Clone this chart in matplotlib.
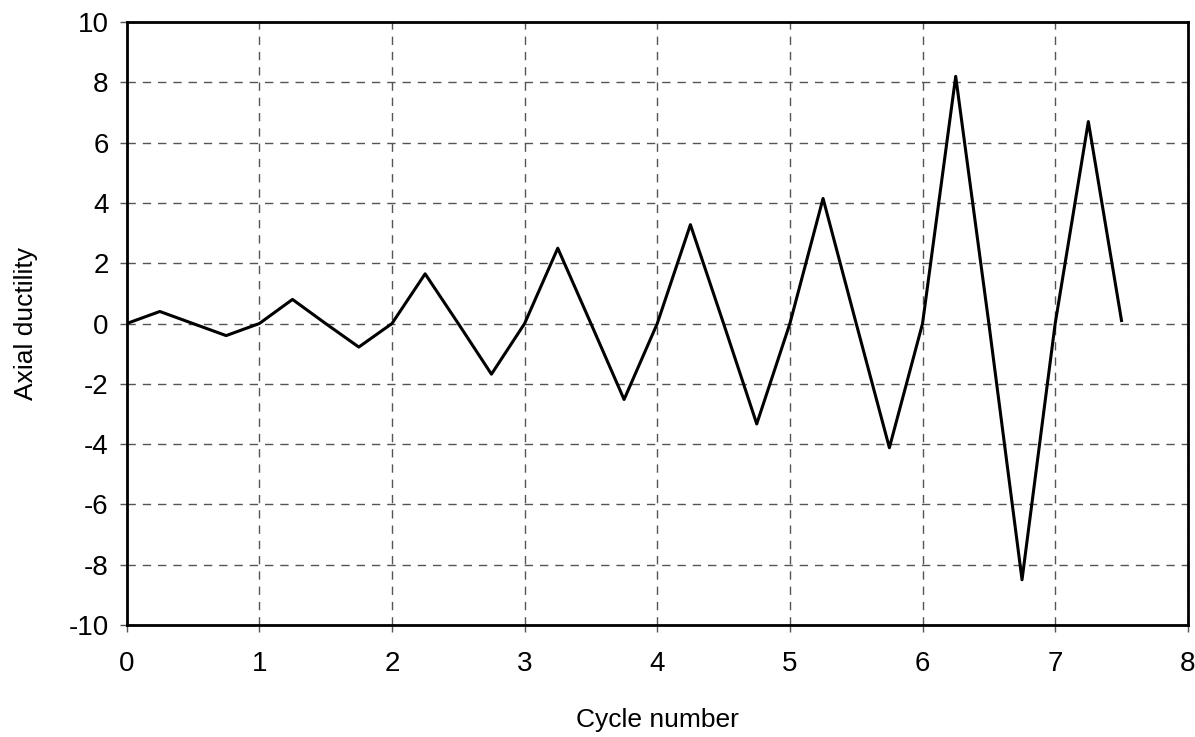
import matplotlib.pyplot as plt

# Dados
cycle = [0, 0.25, 0.5, 0.75, 1, 1.25, 1.5, 1.75, 2, 2.25, 2.5, 2.75, 3, 3.25, 3.5, 3.75,
         4, 4.25, 4.5, 4.75, 5, 5.25, 5.5, 5.75, 6, 6.25, 6.5, 6.75, 7, 7.25, 7.5]
ductility = [0, 0.4, 0, -0.4, 0, 0.8, 0, -0.78, 0, 1.65, 0, -1.68, 0, 2.5, 0, -2.52,
             0, 3.28, 0, -3.33, 0, 4.15, 0, -4.12, 0, 8.2, 0, -8.5, 0, 6.7, 0.1]
xticks = list(range(0, 9))
yticks = list(range(-10, 11, 2))

plt.rcParams['font.family'] = ['Liberation Sans', 'DejaVu Sans']
plt.rcParams['axes.unicode_minus'] = False

fig = plt.figure(figsize=(11.95, 7.37), dpi=100)
ax = fig.add_axes([0.106, 0.152, 0.888, 0.818])

ax.plot(cycle, ductility, color='black', linewidth=2.2)

ax.set_xlim(0, 8)
ax.set_ylim(-10, 10)
ax.set_xticks(xticks)
ax.set_yticks(yticks)
ax.grid(True, color='#555555', linestyle=(0, (6, 5)), linewidth=1)
ax.set_axisbelow(True)
for s in ax.spines.values():
    s.set_linewidth(2)
ax.tick_params(direction='out', length=5, width=1, color='#555555', labelsize=20)
ax.tick_params(axis='x', pad=14)
ax.tick_params(axis='y', pad=8)

ax.set_xlabel('Cycle number', fontsize=19, labelpad=22)
ax.set_ylabel('Axial ductility', fontsize=19, labelpad=22)

fig.savefig('out.png', dpi=100)
